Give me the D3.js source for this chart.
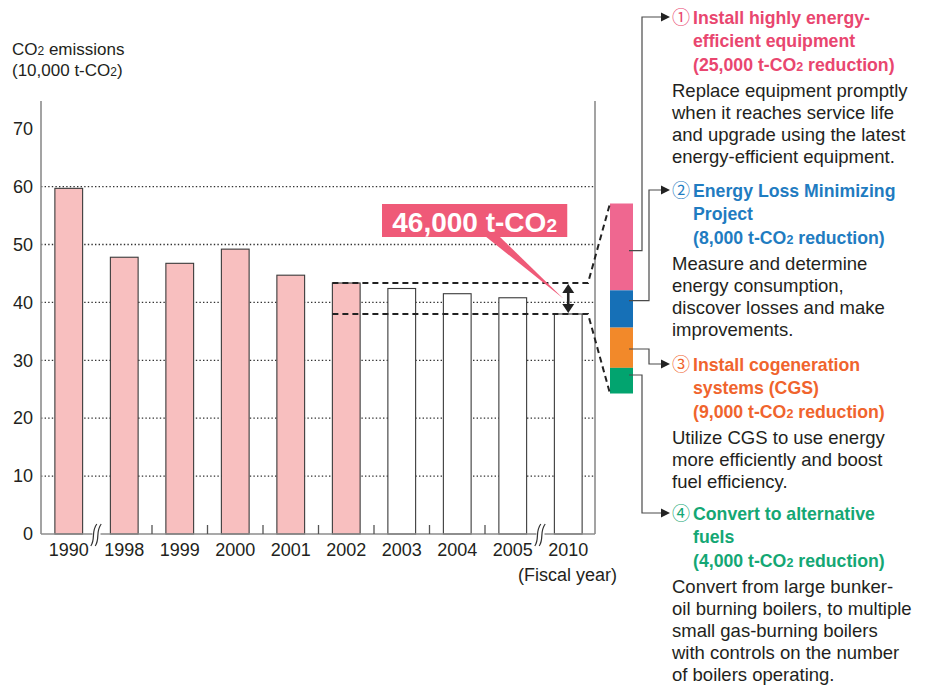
<!DOCTYPE html>
<html>
<head>
<meta charset="utf-8">
<script src="https://cdn.jsdelivr.net/npm/d3@7"></script>
<style>
  body { margin: 0; background: #fff; }
  svg { display: block; font-family: "Liberation Sans", Arial, sans-serif; }
</style>
</head>
<body>
<div id="chart"></div>
<script>
// chart data
var years = ["1990", "1998", "1999", "2000", "2001", "2002", "2003", "2004", "2005", "2010"];
var emissions = [59.7, 47.8, 46.75, 49.2, 44.7, 43.35, 42.4, 41.5, 40.8, 38.0];
var lastActualYear = "2002";
var yTicks = [0, 10, 20, 30, 40, 50, 60, 70];
var gridTicks = [10, 20, 30, 40, 50, 60];
var breakAfter = ["1990", "2005"];

// reduction measures (t-CO2)
var reductions = [25000, 8000, 9000, 4000];
var measureNums = ["\u2460", "\u2461", "\u2462", "\u2463"];
var measureTitles = [
  ["Install highly energy-", "efficient equipment"],
  ["Energy Loss Minimizing", "Project"],
  ["Install cogeneration", "systems (CGS)"],
  ["Convert to alternative", "fuels"]
];
var measureBodies = [
  ["Replace equipment promptly", "when it reaches service life", "and upgrade using the latest", "energy-efficient equipment."],
  ["Measure and determine", "energy consumption,", "discover losses and make", "improvements."],
  ["Utilize CGS to use energy", "more efficiently and boost", "fuel efficiency."],
  ["Convert from large bunker-", "oil burning boilers, to multiple", "small gas-burning boilers", "with controls on the number", "of boilers operating."]
];
var stackColors = ["#ef6790", "#1670b7", "#f2892a", "#02a46f"];
var headColors = ["#e9466f", "#1f7cc1", "#f0642d", "#14a774"];

var W = 930, H = 686;
var svg = d3.select("#chart").append("svg").attr("width", W).attr("height", H);

var left = 41, right = 596, bottom = 534, axisTop = 101;

var x = d3.scaleBand().domain(years).range([left, right]).paddingInner(0.5).paddingOuter(0.25);
var y = d3.scaleLinear().domain([0, 70]).range([bottom, 128.7]);

var ink = "#231f20";
var axisGray = "#8c8c8c";

// gridlines (dotted)
svg.append("g").selectAll("line").data(gridTicks).join("line")
  .attr("x1", left).attr("x2", right - 1)
  .attr("y1", d => y(d)).attr("y2", d => y(d))
  .attr("stroke", "#333").attr("stroke-width", 1.3)
  .attr("stroke-dasharray", "1.4,2.2");

// bars
svg.append("g").selectAll("rect").data(years).join("rect")
  .attr("x", d => x(d))
  .attr("y", (d, i) => y(emissions[i]))
  .attr("width", x.bandwidth())
  .attr("height", (d, i) => bottom - y(emissions[i]))
  .attr("fill", d => +d <= +lastActualYear ? "#f8bfbf" : "#fff")
  .attr("stroke", "#3a3a3a").attr("stroke-width", 1.1);

// axis frame
svg.append("line").attr("x1", left).attr("x2", left).attr("y1", axisTop).attr("y2", bottom)
  .attr("stroke", axisGray).attr("stroke-width", 1.6);
svg.append("line").attr("x1", right - 1).attr("x2", right - 1).attr("y1", axisTop).attr("y2", bottom)
  .attr("stroke", axisGray).attr("stroke-width", 1.6);
svg.append("line").attr("x1", left).attr("x2", right - 1).attr("y1", bottom).attr("y2", bottom)
  .attr("stroke", axisGray).attr("stroke-width", 1.6);

// y axis labels
var yAxis = d3.axisLeft(y).tickValues(yTicks).tickSize(0).tickPadding(8);
var gy = svg.append("g").attr("transform", `translate(${left},0)`).call(yAxis);
gy.select(".domain").remove();
gy.selectAll("text").attr("fill", ink).style("font-size", "18px").style("font-family", "Liberation Sans, Arial, sans-serif");

// x axis labels
var xAxis = d3.axisBottom(x).tickSize(0).tickPadding(9);
var gx = svg.append("g").attr("transform", `translate(0,${bottom})`).call(xAxis);
gx.select(".domain").remove();
gx.selectAll("text").attr("fill", ink).style("font-size", "18px").style("font-family", "Liberation Sans, Arial, sans-serif");

// small ticks between bars (not at the breaks)
var step = x.step();
var gap = step - x.bandwidth();
var boundaries = years.slice(1).filter((d, i) => breakAfter.indexOf(years[i]) < 0);
svg.append("g").selectAll("line").data(boundaries).join("line")
  .attr("x1", d => x(d) - gap / 2).attr("x2", d => x(d) - gap / 2)
  .attr("y1", bottom).attr("y2", bottom - 9)
  .attr("stroke", "#555").attr("stroke-width", 1.3);

// axis break marks
var breaks = svg.append("g").selectAll("g").data(breakAfter).join("g")
  .attr("transform", d => `translate(${x(d) + x.bandwidth() + gap / 2},${bottom + 1})`);
breaks.append("rect").attr("x", -4).attr("y", -3).attr("width", 8).attr("height", 6).attr("fill", "#fff");
breaks.selectAll("path").data([-2.2, 2.2]).join("path")
  .attr("d", o => `M${o - 3.5},11 C${o + 1.5},4 ${o - 3.5},-3 ${o + 2.5},-11`)
  .attr("fill", "none").attr("stroke", "#333").attr("stroke-width", 1.2);

// axis titles
var t1 = svg.append("text").attr("x", 12).attr("y", 55).attr("fill", ink).style("font-size", "17px");
t1.append("tspan").text("CO");
t1.append("tspan").text("2").style("font-size", "12px");
t1.append("tspan").text(" emissions");
var t2 = svg.append("text").attr("x", 12).attr("y", 76).attr("fill", ink).style("font-size", "17px");
t2.append("tspan").text("(10,000 t-CO");
t2.append("tspan").text("2").style("font-size", "12px");
t2.append("tspan").text(")");

svg.append("text").attr("x", 617).attr("y", 581).attr("text-anchor", "end")
  .attr("fill", ink).style("font-size", "18px").text("(Fiscal year)");

// stacked reduction bar
var total = d3.sum(reductions);
var stackX = 610, stackW = 23, stackTop = 203.5, stackH = 190, minSeg = 14;
var segScale = d3.scaleLinear().domain([0, total]).range([0, stackH - minSeg * reductions.length]);
var segs = [];
var acc = stackTop;
reductions.forEach(function (v, i) {
  var h = minSeg + segScale(v);
  segs.push({ y0: acc, y1: acc + h, color: stackColors[i] });
  acc += h;
});
svg.append("g").selectAll("rect").data(segs).join("rect")
  .attr("x", stackX).attr("width", stackW)
  .attr("y", d => d.y0).attr("height", d => d.y1 - d.y0)
  .attr("fill", d => d.color);

// dashed guides from 2002 and 2010 levels to the stack
var yHigh = y(emissions[years.indexOf("2002")]);
var yLow = y(emissions[years.indexOf("2010")]);
var dashStart = x("2002");
var dashEnd = 588;
svg.append("path")
  .attr("d", `M${dashStart},${yHigh} H${dashEnd} L${stackX},${stackTop}`)
  .attr("fill", "none").attr("stroke", "#222").attr("stroke-width", 2).attr("stroke-dasharray", "6,4");
svg.append("path")
  .attr("d", `M${dashStart},${yLow} H${dashEnd} L${stackX},${acc}`)
  .attr("fill", "none").attr("stroke", "#222").attr("stroke-width", 2).attr("stroke-dasharray", "6,4");

// double-headed arrow at 2010
var ax = x("2010") + x.bandwidth() / 2;
svg.append("line").attr("x1", ax).attr("x2", ax).attr("y1", yHigh + 4).attr("y2", yLow - 4)
  .attr("stroke", "#222").attr("stroke-width", 2.6);
svg.append("path").attr("d", `M${ax},${yHigh + 1} L${ax - 6},${yHigh + 10} L${ax + 6},${yHigh + 10} Z`).attr("fill", "#222");
svg.append("path").attr("d", `M${ax},${yLow - 1} L${ax - 6},${yLow - 10} L${ax + 6},${yLow - 10} Z`).attr("fill", "#222");

// callout
var calloutColor = "#ef5a78";
var boxR = ax - 1, boxL = 382, boxT = 204, boxB = 237;
svg.append("path")
  .attr("d", `M${boxL + 103},${boxB - 1} L${boxL + 117},${boxB - 1} L${ax - 5},${(yHigh + yLow) / 2}`)
  .attr("fill", calloutColor);
svg.append("rect").attr("x", boxL).attr("y", boxT).attr("width", boxR - boxL).attr("height", boxB - boxT)
  .attr("fill", calloutColor);
var ct = svg.append("text").attr("x", (boxL + boxR) / 2).attr("y", boxB - 5).attr("text-anchor", "middle")
  .attr("fill", "#fff").style("font-size", "28px").style("font-weight", "bold");
ct.append("tspan").text(d3.format(",")(total) + " t-CO");
ct.append("tspan").text("2").style("font-size", "19px");

// measure descriptions on the right
var arrowYs = [17, 190, 364, 513];
var connectorXs = [642, 649, 649, 642];
var connectorYs = [250.7, 300.7, 349, 375];
var textX = 672, titleX = 693, tipX = 670;
var lineH = 23.3, bodyH = 22;

reductions.forEach(function (v, i) {
  var col = headColors[i];
  var ay = arrowYs[i];
  svg.append("path")
    .attr("d", `M${stackX + stackW - 4},${connectorYs[i]} H${connectorXs[i]} V${ay} H${tipX - 7}`)
    .attr("fill", "none").attr("stroke", "#4a4a4a").attr("stroke-width", 1.2);
  svg.append("path").attr("d", `M${tipX},${ay} L${tipX - 9},${ay - 4.5} L${tipX - 9},${ay + 4.5} Z`).attr("fill", "#222");

  var base = ay + 7;
  svg.append("text").attr("x", textX).attr("y", base).attr("fill", col)
    .style("font-family", "Noto Sans CJK JP, DejaVu Sans, sans-serif").style("font-size", "18px")
    .text(measureNums[i]);
  measureTitles[i].forEach(function (line, j) {
    svg.append("text").attr("x", titleX).attr("y", base + j * lineH).attr("fill", col)
      .style("font-size", "17.7px").style("font-weight", "bold").text(line);
  });
  var rt = svg.append("text").attr("x", titleX).attr("y", base + 2 * lineH).attr("fill", col)
    .style("font-size", "17.7px").style("font-weight", "bold");
  rt.append("tspan").text("(" + d3.format(",")(v) + " t-CO");
  rt.append("tspan").text("2").style("font-size", "12.5px");
  rt.append("tspan").text(" reduction)");

  var bodyBase = base + 2 * lineH + 26;
  measureBodies[i].forEach(function (line, j) {
    svg.append("text").attr("x", textX).attr("y", bodyBase + j * bodyH).attr("fill", ink)
      .style("font-size", "18.5px").text(line);
  });
});
</script>
</body>
</html>
